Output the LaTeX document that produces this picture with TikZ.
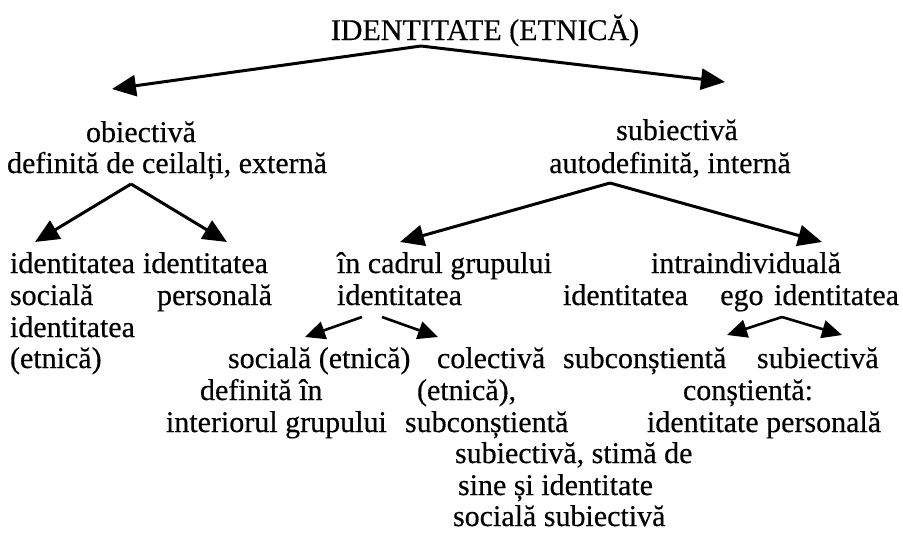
\documentclass[tikz,border=0pt]{standalone}
\usepackage{fontspec}
\setmainfont{Liberation Serif}[FakeBold=0.4]
\usetikzlibrary{arrows.meta}
\tikzset{
  txt/.style={inner sep=0pt, outer sep=0pt, anchor=base west, font=\fontsize{30}{31.5}\selectfont},
  ctxt/.style={txt, anchor=base},
  etxt/.style={txt, anchor=base east},
  bigarrow/.style={line width=3pt, -{Triangle[length=24pt,width=21pt]}},
  smallarrow/.style={line width=2.6pt, -{Triangle[length=20pt,width=18pt]}}
}
\begin{document}
\begin{tikzpicture}[x=1pt,y=-1pt]
\useasboundingbox[fill=white] (0,0) rectangle (903,544);
% texts
\node[ctxt] (title) at (485,40) {IDENTITATE (ETNICĂ)};
\node[ctxt] (obi) at (141,142) {obiectivă};
\node[ctxt] (defobi) at (167,173) {definită de ceilalți, externă};
\node[ctxt] (sub) at (677,140) {subiectivă};
\node[ctxt] (autodef) at (670,173) {autodefinită, internă};
% row 3
\node[txt] (id1) at (10,273) {identitatea};
\node[txt] (id2) at (143,273) {identitatea};
\node[txt] (incadrul) at (337,273) {în cadrul grupului};
\node[txt] (intra) at (651,273) {intraindividuală};
% row 4
\node[txt] (soc1) at (10,305) {socială};
\node[etxt] (pers) at (272,305) {personală};
\node[txt] (idmid) at (337,305) {identitatea};
\node[txt] (idright) at (563,305) {identitatea};
\node[etxt] (egoid) at (899,305) {ego\hspace{3pt} identitatea};
% row 5
\node[txt] (id3) at (10,337) {identitatea};
\node[txt] (etn1) at (10,368) {(etnică)};
\node[txt] (socet) at (228,368) {socială (etnică)};
\node[txt] (colect) at (437,368) {colectivă};
\node[txt] (subcon1) at (563,368) {subconștientă};
\node[txt] (subiec2) at (757,368) {subiectivă};
% row 6
\node[txt] (defin) at (200,400) {definită în};
\node[txt] (etnc) at (417,400) {(etnică),};
\node[txt] (constient) at (683,400) {conștientă:};
% row 7
\node[txt] (interior) at (166,432) {interiorul grupului};
\node[txt] (subcon2) at (405,432) {subconștientă};
\node[txt] (idpers) at (647,432) {identitate personală};
% rows 8-10
\node[txt] (stima) at (455,463) {subiectivă, stimă de};
\node[txt] (sine) at (458,495) {sine și identitate};
\node[txt] (socsub) at (453,526) {socială subiectivă};
% connector points
\coordinate (a0) at (421,46);
\coordinate (a0l) at (112,89);
\coordinate (a0r) at (725,82);
\coordinate (a1) at (131,184);
\coordinate (a1l) at (35,242);
\coordinate (a1r) at (227,242);
\coordinate (a2) at (610,183);
\coordinate (a2l) at (400,242);
\coordinate (a2r) at (822,242);
\coordinate (m1) at (362,317);
\coordinate (m1t) at (305,337);
\coordinate (m2) at (382,317);
\coordinate (m2t) at (438,337);
\coordinate (e0) at (782,317);
\coordinate (e0l) at (727,335);
\coordinate (e0r) at (842,335);
% arrows
\draw[bigarrow] (a0) -- (a0l);
\draw[bigarrow] (a0) -- (a0r);
\draw[bigarrow] (a1) -- (a1l);
\draw[bigarrow] (a1) -- (a1r);
\draw[bigarrow] (a2) -- (a2l);
\draw[bigarrow] (a2) -- (a2r);
\draw[smallarrow] (m1) -- (m1t);
\draw[smallarrow] (m2) -- (m2t);
\draw[smallarrow] (e0) -- (e0l);
\draw[smallarrow] (e0) -- (e0r);
\end{tikzpicture}
\end{document}
